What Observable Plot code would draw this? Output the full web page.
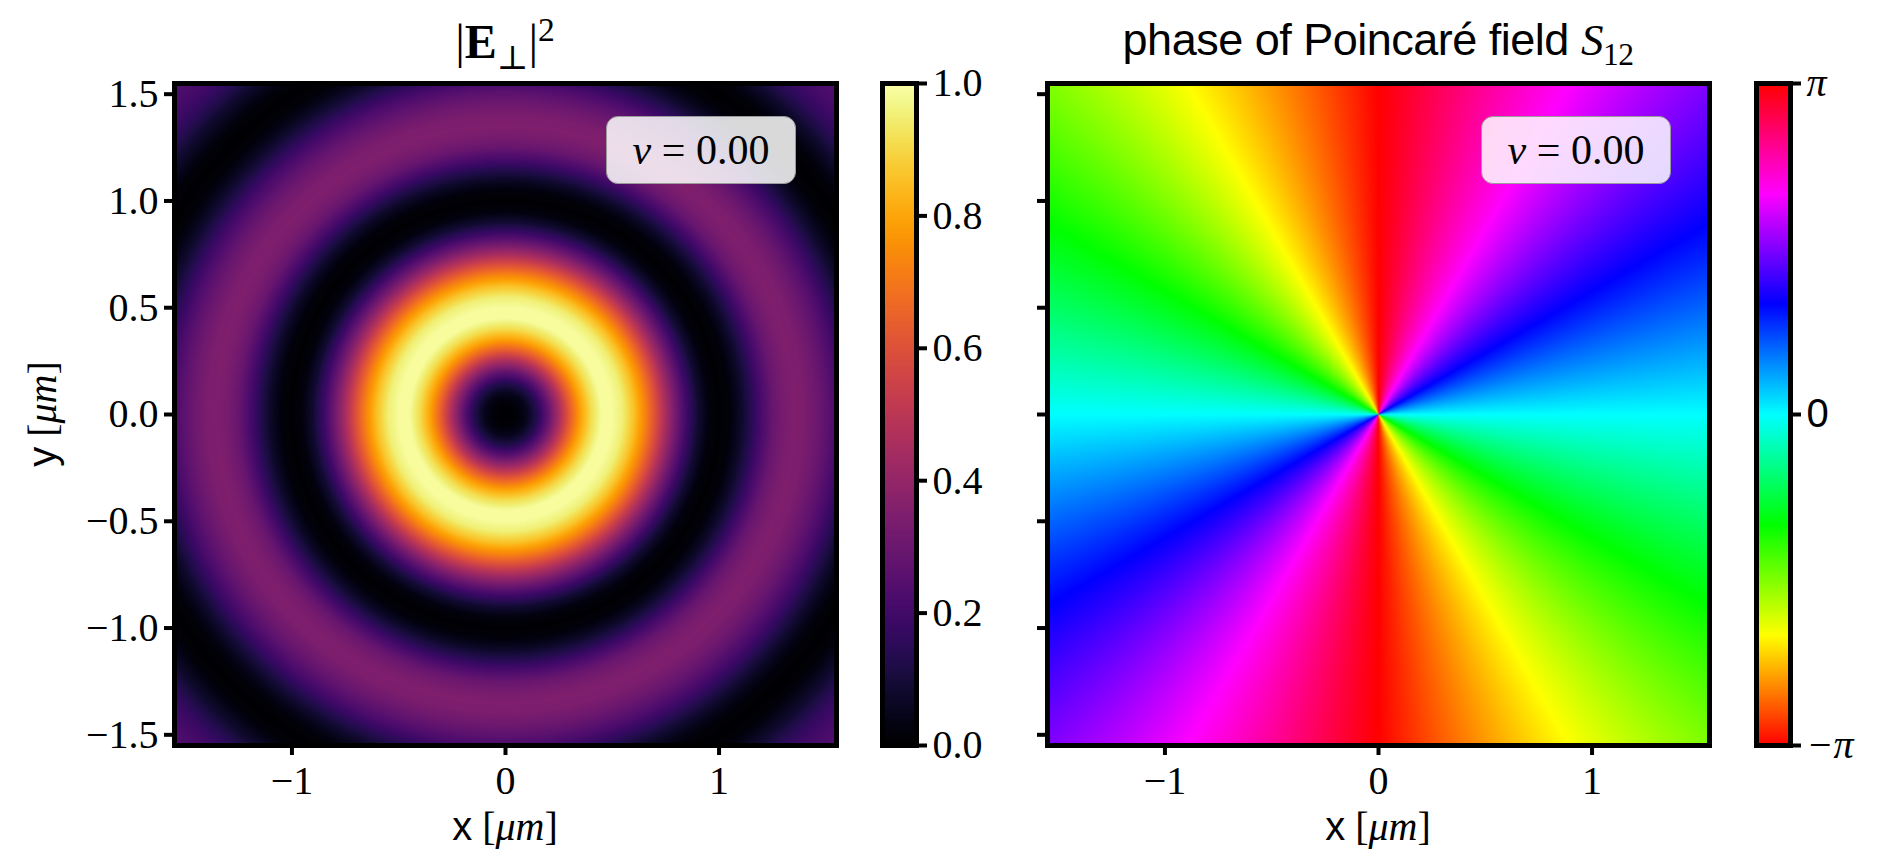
<!DOCTYPE html>
<html>
<head>
<meta charset="utf-8">
<script src="https://cdn.jsdelivr.net/npm/d3@7"></script>
<script src="https://cdn.jsdelivr.net/npm/@observablehq/plot@0.6"></script>
<style>
  html, body { margin: 0; padding: 0; background: #fff; overflow: hidden; }
  #fig { position: relative; width: 1883px; height: 856px; color: #000;
         font-family: "Liberation Serif", "DejaVu Serif", serif; }
  #fig svg { position: absolute; left: 0; top: 0; }
  .lbl { position: absolute; white-space: nowrap; line-height: 1; }
  .sans { font-family: "Liberation Sans", "DejaVu Sans", sans-serif; }
  .nubox { position: absolute; box-sizing: border-box; border: 1.5px solid #9a9a9a;
           border-radius: 12px; background: rgba(255,255,255,0.85);
           display: flex; align-items: center; justify-content: center;
           font-family: "Liberation Serif", "DejaVu Serif", serif;
           font-size: 42px; line-height: 1; }
  sub, sup { line-height: 0; }
</style>
</head>
<body>
<div id="fig"></div>
<script>
// ---------------- data ----------------
// plotted extent of both panels (µm)
const extentUm = [-1.55, 1.55];
// radial profile of |E_perp|^2 (normalised) vs radius r (µm)
const radiusUm = [0, 0.05, 0.1, 0.15, 0.2, 0.25, 0.3, 0.35, 0.4, 0.45,
                  0.5, 0.55, 0.6, 0.65, 0.7, 0.75, 0.8, 0.85, 0.9, 0.95,
                  1.0, 1.05, 1.1, 1.15, 1.2, 1.25, 1.3, 1.35, 1.4, 1.45,
                  1.5, 1.55, 1.6, 1.65, 1.7, 1.75, 1.8, 1.85, 1.9, 1.95,
                  2.0, 2.05, 2.1, 2.15, 2.2];
const intensity = [0, 0.01, 0.05, 0.14, 0.28, 0.45, 0.63, 0.79, 0.91, 0.99,
                   0.99, 0.95, 0.86, 0.74, 0.6, 0.45, 0.31, 0.19, 0.09, 0.025,
                   0.003, 0.02, 0.07, 0.14, 0.22, 0.29, 0.33, 0.35, 0.34, 0.31,
                   0.27, 0.22, 0.16, 0.1, 0.05, 0.015, 0.002, 0.015, 0.05, 0.09,
                   0.14, 0.18, 0.21, 0.23, 0.24];
// phase of S12 (in units of pi, unwrapped) vs azimuth of the point (degrees)
const azimuthDeg = [0, 45, 90, 135, 180, 225, 270, 315, 360];
const phaseOverPi = [0, 0.5, 1, 1.5, 2, 2.5, 3, 3.5, 4];
// ticks
const yTicks = [-1.5, -1.0, -0.5, 0.0, 0.5, 1.0, 1.5];
const xTicks = [-1, 0, 1];
const cbTicksIntensity = [0.0, 0.2, 0.4, 0.6, 0.8, 1.0];
const cbTicksPhase = [-Math.PI, 0, Math.PI];
const nuValue = 0.00;

// ---------------- layout ----------------
const W = 1883, H = 856;
const TOP = 83, SIDE = 662;           // square axes
const LEFT1 = 174, LEFT2 = 1047;      // axes left edges
const CB1 = 882, CB2 = 1756, CBW = 34; // colorbars
const serif = "Liberation Serif, DejaVu Serif, serif";
const sans = "Liberation Sans, DejaVu Sans, sans-serif";
const FS = 40;

const rScale = d3.scaleLinear(radiusUm, intensity).clamp(true);
const aScale = d3.scaleLinear(azimuthDeg, phaseOverPi);
const wrap = p => { let v = (p + Math.PI) % (2 * Math.PI); if (v < 0) v += 2 * Math.PI; return v - Math.PI; };
const intensityAt = (x, y) => rScale(Math.hypot(x, y));
const phaseAt = (x, y) => {
  let a = Math.atan2(y, x) * 180 / Math.PI; if (a < 0) a += 360;
  return wrap(aScale(a) * Math.PI);
};

const infernoColor = {type: "linear", domain: [0, 1], scheme: "inferno"};
const hsvColor = {type: "linear", domain: [-Math.PI, Math.PI], interpolate: t => d3.hsl(360 * t, 1, 0.5).formatHex()};

const tickOpts = {tickSize: 10, strokeWidth: 4, stroke: "black", fill: "black", fontSize: FS, fontFamily: serif, label: null};
const fmt1 = d3.format(".1f");
const fmt0 = d3.format("d");
const svgStyle = {background: "transparent", overflow: "visible", fontFamily: serif, fontSize: FS + "px", color: "black"};

function panel(left, fill, color, showY) {
  return Plot.plot({
    width: W, height: H,
    marginLeft: left, marginRight: W - left - SIDE, marginTop: TOP, marginBottom: H - TOP - SIDE,
    x: {domain: extentUm}, y: {domain: extentUm},
    color,
    style: svgStyle,
    marks: [
      Plot.raster({x1: extentUm[0], x2: extentUm[1], y1: extentUm[0], y2: extentUm[1], fill}),
      Plot.frame({stroke: "black", strokeWidth: 5}),
      Plot.axisY(yTicks, {...tickOpts, anchor: "left", tickPadding: 6, tickFormat: showY ? fmt1 : () => ""}),
      Plot.axisX(xTicks, {...tickOpts, anchor: "bottom", tickPadding: 10, tickFormat: fmt0})
    ]
  });
}

function colorbar(left, domain, color, axes) {
  return Plot.plot({
    width: W, height: H,
    marginLeft: left, marginRight: W - left - CBW, marginTop: TOP, marginBottom: H - TOP - SIDE,
    x: {domain: [0, 1], axis: null}, y: {domain},
    color,
    style: svgStyle,
    marks: [
      Plot.raster({x1: 0, x2: 1, y1: domain[0], y2: domain[1], fill: (x, y) => y}),
      Plot.frame({stroke: "black", strokeWidth: 5}),
      ...axes
    ]
  });
}

function serifText(svg) {
  svg.querySelectorAll("text").forEach(t => {
    t.setAttribute("font-family", serif);
    t.style.fontFamily = serif;
  });
  return svg;
}

const fig = document.getElementById("fig");
fig.append(serifText(panel(LEFT1, intensityAt, infernoColor, true)));
fig.append(serifText(colorbar(CB1, [0, 1], infernoColor, [
  Plot.axisY(cbTicksIntensity, {...tickOpts, anchor: "right", tickPadding: 6, tickFormat: fmt1})
])));
fig.append(serifText(panel(LEFT2, phaseAt, hsvColor, false)));
const cb2 = serifText(colorbar(CB2, [-Math.PI, Math.PI], hsvColor, [
  Plot.axisY(cbTicksPhase, {...tickOpts, anchor: "right", tickPadding: 6,
    tickFormat: d => d < 0 ? "\u2212\u03c0" : d > 0 ? "\u03c0" : "0"})
]));
cb2.querySelectorAll("text").forEach(t => {
  if (t.textContent.trim() === "0") { t.setAttribute("font-family", sans); t.style.fontFamily = sans; }
  else { t.setAttribute("font-style", "italic"); t.style.fontStyle = "italic"; }
});
fig.append(cb2);

// ---------------- text ----------------
function addLabel(html, x, y, cls, extra) {
  const d = document.createElement("div");
  d.className = "lbl " + (cls || "");
  d.innerHTML = html;
  d.style.left = x + "px"; d.style.top = y + "px";
  d.style.transform = extra || "translate(-50%, -50%)";
  fig.append(d);
  return d;
}
const c1 = LEFT1 + SIDE / 2, c2 = LEFT2 + SIDE / 2;
addLabel("|<b>E</b><sub style='font-size:0.7em'>\u22a5</sub>|<sup style='font-size:0.7em'>2</sup>", c1, 42, "", null).style.fontSize = "48px";
const t2 = addLabel("phase of Poincar\u00e9 field <i style=\"font-family:" + serif + "\">S</i><sub style='font-size:0.7em;font-family:" + serif + "'>12</sub>", c2, 40, "sans", null);
t2.style.fontSize = "45px"; t2.style.letterSpacing = "-0.5px";
for (const cx of [c1, c2]) {
  addLabel("<span class='sans'>x</span> [<i>\u03bcm</i>]", cx, 826, "", null).style.fontSize = "40px";
}
addLabel("<span class='sans'>y</span> [<i>\u03bcm</i>]", 42, TOP + SIDE / 2, "", "translate(-50%, -50%) rotate(-90deg)").style.fontSize = "40px";

for (const bx of [606, 1481]) {
  const b = document.createElement("div");
  b.className = "nubox";
  b.style.left = bx + "px"; b.style.top = "116px"; b.style.width = "190px"; b.style.height = "68px";
  b.innerHTML = "<i>\u03bd</i>&nbsp;=&nbsp;" + nuValue.toFixed(2);
  fig.append(b);
}
</script>
</body>
</html>
